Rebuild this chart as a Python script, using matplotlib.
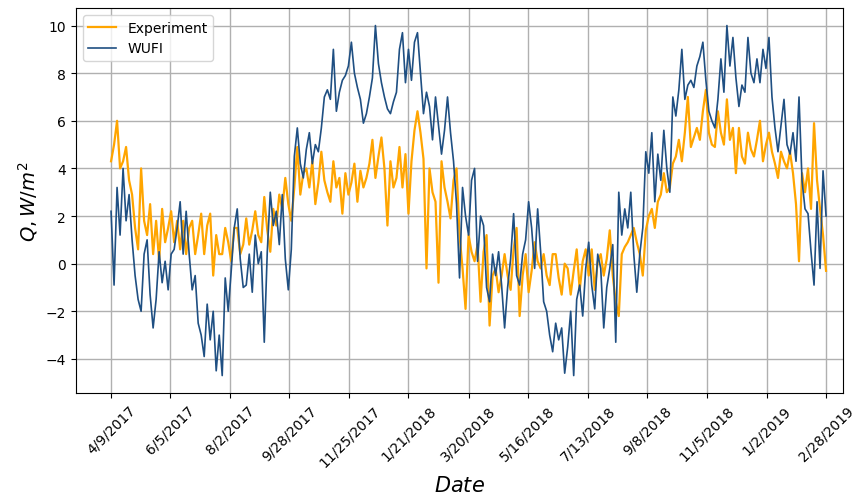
import numpy as np
import pandas as pd
import matplotlib
matplotlib.use('Agg')
import matplotlib.pyplot as plt

start_date = '2017-04-09'
end_date = '2019-02-28'

tick_labels = ['4/9/2017', '6/5/2017', '8/2/2017', '9/28/2017', '11/25/2017',
               '1/21/2018', '3/20/2018', '5/16/2018', '7/13/2018', '9/8/2018',
               '11/5/2018', '1/2/2019', '2/28/2019']

# measured heat flux, W/m2 (evenly spaced samples over the period)
experiment = [
    4.3, 5.0, 6.0, 4.0, 4.3, 4.9, 3.5, 2.9, 1.5, 0.6,
    4.0, 1.8, 1.2, 2.5, 0.4, 1.8, 0.1, 2.3, 0.9, 1.5,
    2.2, 0.9, 1.8, 0.6, 1.8, 0.4, 1.5, 1.8, 0.4, 1.2,
    2.1, 0.4, 1.6, 2.1, -0.5, 1.2, 0.4, 0.4, 1.5, 0.9,
    0.1, 1.5, 1.5, 0.4, 0.8, 1.9, 0.8, 1.4, 2.2, 1.2,
    0.9, 2.8, 1.4, 0.5, 2.3, 1.6, 2.9, 2.3, 3.6, 2.5,
    1.8, 3.2, 4.9, 2.9, 3.8, 4.0, 3.2, 4.3, 2.5, 3.4,
    4.7, 3.5, 3.0, 2.6, 4.3, 3.2, 3.6, 2.1, 3.8, 2.9,
    3.4, 4.2, 2.6, 3.9, 3.2, 3.6, 4.2, 5.2, 3.6, 4.5,
    5.3, 4.0, 1.6, 4.3, 3.2, 3.6, 4.9, 3.2, 4.6, 2.1,
    4.3, 5.6, 6.4, 5.5, 4.4, -0.2, 4.0, 3.0, 2.6, -0.8,
    4.3, 3.2, 2.6, 1.9, 3.5, 4.0, 1.2, -0.2, -1.9, 1.2,
    0.5, 0.1, 0.8, -1.6, 0.5, 1.2, -2.6, -0.5, -0.2, -1.2,
    -0.5, 0.4, -0.5, -1.1, 0.6, 1.5, -2.2, -0.5, 0.4, -1.2,
    -0.3, 0.9, 0.1, -0.2, 0.4, -0.5, -0.9, 0.4, 0.4, -0.6,
    -1.3, 0.0, -0.2, -1.3, -0.3, 0.6, -1.1, 0.1, 0.6, -0.5,
    0.6, -1.1, 0.1, 0.4, -0.5, 0.2, 1.4, -0.5, -1.6, -2.2,
    0.4, 0.7, 0.9, 1.2, 1.5, 0.9, 0.4, -0.5, 1.4, 2.0,
    2.3, 1.5, 2.6, 2.9, 3.8, 3.0, 3.2, 4.2, 4.5, 5.2,
    4.3, 5.5, 7.0, 4.9, 5.3, 5.7, 5.2, 6.4, 7.3, 5.5,
    5.0, 4.9, 6.4, 5.5, 5.0, 6.9, 5.2, 5.7, 3.8, 5.7,
    4.5, 4.2, 5.5, 4.8, 4.5, 5.2, 6.0, 4.3, 5.0, 5.5,
    4.7, 4.2, 3.6, 4.7, 4.3, 4.0, 4.7, 3.8, 2.5, 0.1,
    3.8, 3.0, 4.0, 2.3, 5.9, 3.5, 2.3, 1.2, -0.3,
]

# simulated heat flux from WUFI, W/m2
wufi = [
    2.2, -0.9, 3.2, 1.2, 4.0, 1.8, 2.9, 1.0, -0.5, -1.5,
    -2.0, 0.4, 1.0, -1.3, -2.7, -1.5, 0.5, -0.8, 0.1, -1.1,
    0.4, 0.6, 1.5, 2.6, 0.4, 2.2, 0.4, -1.1, -0.5, -2.5,
    -3.0, -3.9, -1.7, -3.2, -2.0, -4.5, -3.0, -4.7, -0.6, -2.0,
    -0.3, 1.5, 2.3, 0.2, -1.0, -0.9, 0.4, -1.2, 1.2, 0.0,
    0.5, -3.3, 0.5, 3.0, 1.6, 2.2, 0.8, 2.9, 0.2, -1.1,
    0.6, 4.5, 5.7, 4.2, 3.6, 4.8, 5.5, 4.2, 5.0, 4.7,
    5.7, 7.0, 7.3, 6.9, 9.0, 6.4, 7.2, 7.7, 7.9, 8.3,
    9.3, 8.0, 7.4, 6.9, 5.9, 6.3, 7.0, 7.8, 10.0, 8.4,
    7.6, 7.0, 6.5, 6.3, 6.8, 7.2, 9.0, 9.7, 7.6, 9.0,
    7.7, 9.3, 9.7, 8.0, 6.3, 7.2, 6.6, 5.2, 7.0, 5.8,
    4.6, 5.6, 7.0, 5.5, 4.3, 2.5, -0.6, 3.2, 2.0, 1.2,
    3.5, 4.0, 0.1, 2.0, 1.6, -1.0, -1.6, 0.4, -0.5, 0.5,
    -0.9, -2.7, -1.0, 0.2, 2.1, -0.5, -0.9, 0.4, 1.0, 2.6,
    1.5, -0.2, 2.3, 0.5, -1.6, -2.0, -3.0, -3.7, -2.5, -3.2,
    -2.7, -4.6, -3.5, -2.0, -4.7, -1.5, -0.9, -2.2, -0.2, 0.9,
    -0.9, -1.9, 0.4, -0.2, -2.7, -1.0, -0.2, 0.8, -3.3, 3.0,
    1.2, 2.3, 1.5, 3.0, 0.4, -1.2, 0.4, 1.5, 4.7, 3.8,
    5.5, 2.6, 4.6, 3.5, 5.6, 4.0, 3.0, 7.0, 6.2, 7.3,
    9.0, 6.9, 7.5, 7.7, 7.4, 8.3, 8.7, 9.3, 7.7, 6.4,
    6.0, 5.7, 6.9, 8.6, 7.2, 10.0, 8.3, 9.5, 7.8, 6.6,
    7.5, 7.2, 9.5, 8.0, 7.6, 8.6, 7.6, 9.0, 8.2, 9.5,
    7.0, 5.7, 4.7, 5.8, 6.9, 5.0, 4.6, 5.5, 4.3, 7.0,
    3.5, 2.3, 2.1, 0.5, -0.9, 2.6, -0.2, 3.9, 2.0,
]


def main():
    fig = plt.figure(figsize=(8.52, 5.02), dpi=100)
    ax = fig.add_axes([0.089, 0.215, 0.9, 0.767])

    exp_dates = pd.date_range(start_date, end_date, periods=len(experiment))
    wufi_dates = pd.date_range(start_date, end_date, periods=len(wufi))

    ax.plot(exp_dates, experiment, color='orange', linewidth=1.6, label='Experiment')
    ax.plot(wufi_dates, wufi, color='#1f4f82', linewidth=1.2, label='WUFI')

    ax.set_xticks(pd.to_datetime(tick_labels, format='%m/%d/%Y'))
    ax.set_xticklabels(tick_labels, rotation=45, fontsize=10)
    ax.set_xlim(pd.Timestamp(start_date) - pd.Timedelta(days=34),
                pd.Timestamp(end_date) + pd.Timedelta(days=16))
    ax.set_yticks(np.arange(-4, 11, 2))
    ax.tick_params(axis='y', labelsize=10)

    ax.grid(True, color='#b0b0b0', linewidth=1.0)
    ax.set_xlabel('$Date$', fontsize=15)
    ax.set_ylabel('$Q, W/m^2$', fontsize=14)
    ax.legend(loc='upper left', fontsize=10)

    fig.savefig('out.png', dpi=100)


if __name__ == "__main__":
    main()
